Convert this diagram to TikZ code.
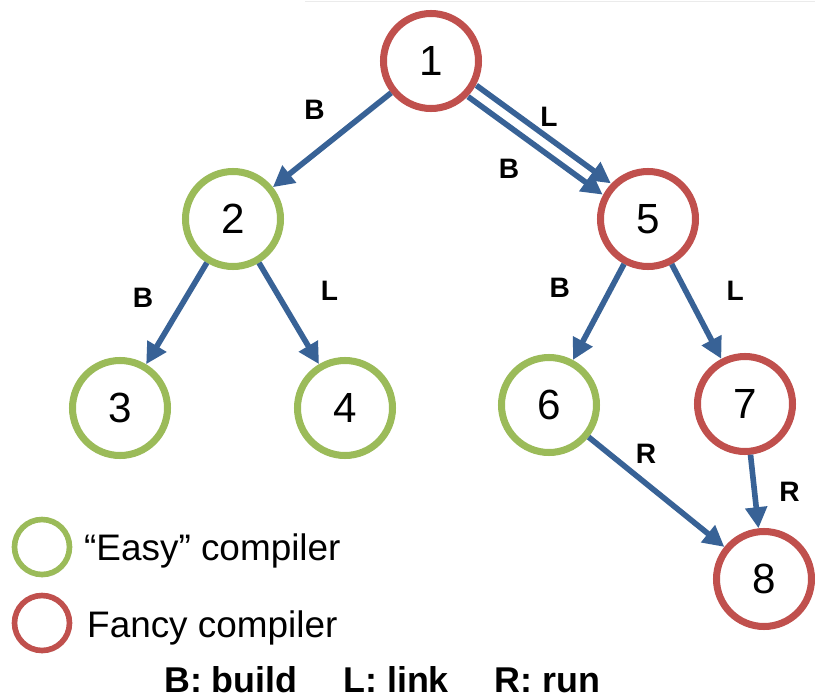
\documentclass[tikz,border=0pt]{standalone}
\usepackage{fontspec}
\setmainfont{Liberation Sans}
\usetikzlibrary{arrows.meta, shadows}
\definecolor{fancyred}{RGB}{192,80,77}
\definecolor{easygreen}{RGB}{155,187,89}
\definecolor{edgeblue}{RGB}{56,98,150}

\begin{document}
\begin{tikzpicture}[
    every node/.style={font=\fontsize{24}{28}\selectfont},
    ez/.style={circle, draw=easygreen, line width=4pt, fill=white, minimum size=1.9cm, inner sep=0pt,
      drop shadow={shadow xshift=0.6pt, shadow yshift=-1.6pt, opacity=0.25}},
    fc/.style={ez, draw=fancyred},
    lgez/.style={ez, minimum size=1.1cm, line width=3.2pt},
    lgfc/.style={fc, minimum size=1.1cm, line width=3.2pt},
    a/.style={-{Triangle[length=12pt,width=12pt]}, draw=edgeblue, line width=3.2pt},
    al/.style={font=\fontsize{16}{18}\selectfont\bfseries, inner sep=0pt},
    lg/.style={font=\fontsize{21}{25}\selectfont, anchor=base west}
]
\useasboundingbox (0,0) rectangle (16.3,-13.94);
\draw[black!8, line width=1pt] (6.1,-0.03) -- (16.3,-0.03);

\node[fc] (n1) at (8.62,-1.22)  {1};
\node[ez] (n2) at (4.66,-4.38)  {2};
\node[ez] (n3) at (2.40,-8.16)  {3};
\node[ez] (n4) at (6.90,-8.16)  {4};
\node[fc] (n5) at (12.96,-4.38) {5};
\node[ez] (n6) at (10.98,-8.10) {6};
\node[fc] (n7) at (14.90,-8.08) {7};
\node[fc] (n8) at (15.28,-11.58) {8};

\draw[a] (n1)-- node[al,xshift=-10pt,yshift=17pt]{B}(n2);
\draw[a,transform canvas={shift={(0.082,0.113)}}] (n1)-- node[al,xshift=3pt,yshift=10pt]{L}(n5);
\draw[a,transform canvas={shift={(-0.082,-0.113)}}] (n1)-- node[al,xshift=-15pt,yshift=-13pt]{B}(n5);
\draw[a] (n2)-- node[al,xshift=-19pt,yshift=9pt]{B}(n3);
\draw[a] (n2)-- node[al,xshift=23pt,yshift=13pt]{L}(n4);
\draw[a] (n5)-- node[al,xshift=-22pt,yshift=14pt]{B}(n6);
\draw[a] (n5)-- node[al,xshift=22pt,yshift=12pt]{L}(n7);
\draw[a] (n6)-- node[al,xshift=-6pt,yshift=22pt]{R}(n8);
\draw[a] (n7)-- node[al,xshift=20pt]{R}(n8);

% legend
\node[lgez] (kez) at (0.84,-10.94) {};
\node[lgfc] (kfc) at (0.84,-12.46) {};
\node[lg] (tez) at (1.56,-11.2) {“Easy” compiler};
\node[lg] (tfc) at (1.62,-12.74) {Fancy compiler};
\node[lg, font=\fontsize{20.4}{24}\selectfont\bfseries] (keys) at (3.16,-13.84)
  {B: build\hspace{26pt}L: link\hspace{26pt}R: run};
\end{tikzpicture}
\end{document}
